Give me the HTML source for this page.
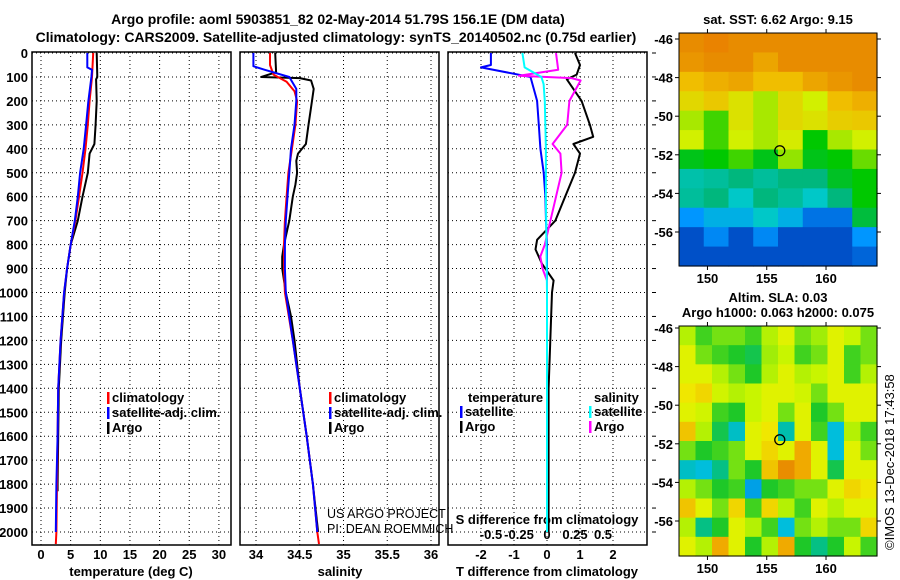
<!DOCTYPE html>
<html><head><meta charset="utf-8"><style>
body{margin:0;background:#fff;}
svg{display:block;font-family:"Liberation Sans",sans-serif;}
.b{font-weight:bold;font-size:13px;}
</style></head><body>
<svg id="c" width="900" height="580" viewBox="0 0 900 580">
<text class="b" x="338" y="24" text-anchor="middle" style="font-size:14px">Argo profile: aoml 5903851_82 02-May-2014 51.79S 156.1E (DM data)</text>
<text class="b" x="336" y="42" text-anchor="middle" style="font-size:14px">Climatology: CARS2009. Satellite-adjusted climatology: synTS_20140502.nc (0.75d earlier)</text>
</svg>
<script>
// ---------- data ----------
const depthTicks=[0,100,200,300,400,500,600,700,800,900,1000,1100,1200,1300,1400,1500,1600,1700,1800,1900,2000];
const tempTicks=[0,5,10,15,20,25,30];
const salTicks=[34,34.5,35,35.5,36];
const salTickLabels=["34","34.5","35","35.5","36"];
const tdTicks=[-2,-1,0,1,2];
const sdTicks=[-0.5,-0.25,0,0.25,0.5];
const sdTickLabels=["-0.5","-0.25","0","0.25","0.5"];
// temperature profiles
const tClimDepth=[0,100,200,300,400,500,600,700,800,900,1000,1200,1400,1600,1800,2000,2050];
const tClim=[8.8,8.6,8.2,7.9,7.5,7.0,6.4,5.8,5.0,4.4,3.9,3.3,2.9,2.8,2.7,2.6,2.5];
const tSatDepth=[0,60,70,100,200,300,400,500,600,700,800,900,1000,1200,1400,1600,1800,2000];
const tSat=[7.8,7.8,8.6,8.5,8.0,7.6,7.2,6.6,6.2,5.7,5.0,4.4,3.9,3.3,2.9,2.8,2.6,2.5];
const tArgoDepth=[0,100,110,200,300,380,420,500,600,700,800,900,1000,1200,1400,1600,1800,1830];
const tArgo=[9.4,9.5,9.3,9.4,9.2,9.0,8.2,7.9,7.0,6.2,5.0,4.4,4.0,3.4,3.0,2.9,2.8,2.8];
// salinity profiles
const sClimDepth=[0,50,90,120,160,200,300,400,500,600,700,800,900,1000,1200,1400,1600,1800,2000,2050];
const sClim=[34.16,34.16,34.2,34.35,34.44,34.47,34.45,34.41,34.37,34.35,34.33,34.32,34.32,34.33,34.42,34.50,34.58,34.65,34.70,34.72];
const sSatDepth=[0,55,70,100,150,200,300,400,500,600,700,800,900,1000,1200,1400,1600,1800,2000];
const sSat=[33.97,33.97,34.1,34.38,34.46,34.46,34.44,34.40,34.38,34.36,34.34,34.33,34.33,34.34,34.42,34.50,34.58,34.65,34.70];
const sArgoDepth=[0,80,100,105,115,150,200,300,380,420,450,500,550,600,700,800,850,900,1000,1100,1200,1400,1600,1800,2000];
const sArgo=[34.22,34.23,34.06,34.5,34.63,34.66,34.64,34.60,34.57,34.48,34.46,34.47,34.45,34.42,34.38,34.32,34.30,34.30,34.34,34.40,34.44,34.50,34.58,34.65,34.71];
// differences
const dTSatDepth=[0,50,60,100,200,300,400,500,600,700,800,1000,1500,2000];
const dTSat=[-1.7,-1.7,-2.0,-0.5,-0.3,-0.25,-0.2,-0.1,-0.05,-0.03,0,0,0,0];
const dTArgoDepth=[0,50,90,110,200,300,350,380,420,500,600,700,780,820,880,950,1000,1200,1400,2000];
const dTArgo=[0.85,1.0,0.9,0.6,1.05,1.3,1.4,0.8,1.0,0.85,0.55,0.25,-0.3,-0.35,-0.15,0.2,0.15,0.1,0.05,0.05];
const dSSatDepth=[0,60,100,130,200,400,600,1000,2000];
const dSSat=[-0.22,-0.2,-0.05,-0.03,-0.02,-0.01,-0.01,0,0];
const dSArgoDepth=[0,70,95,105,115,200,300,380,420,500,600,700,800,850,900,950,1000,1200,1500,1800];
const dSArgo=[0.08,0.1,-0.25,0.22,0.3,0.2,0.18,0.05,0.12,0.13,0.08,0.03,-0.02,-0.06,-0.04,0,0,0,0,0];
// maps
const lonTicks=[150,155,160];
const latTicks=[-46,-48,-50,-52,-54,-56];
const sstGrid=[
[9.5,9.6,9.5,9.5,9.5,9.5,9.5,9.5],
[9.3,9.5,9.5,9.0,9.5,9.5,9.5,9.5],
[8.5,8.8,9.0,8.5,8.5,9.0,9.3,9.5],
[8.0,8.3,7.8,7.3,8.0,7.5,8.5,8.8],
[7.3,6.8,7.8,7.3,8.0,7.8,8.2,8.3],
[7.5,6.8,7.5,7.3,7.6,6.5,7.3,7.5],
[6.3,6.5,6.8,6.3,7.2,6.3,6.5,7.0],
[5.2,5.3,5.5,5.3,5.5,5.5,6.2,6.5],
[5.3,5.5,5.0,5.5,5.3,5.0,5.5,6.5],
[4.0,4.5,4.5,5.0,4.5,3.5,3.5,6.0],
[3.0,3.8,3.0,3.8,3.0,3.0,3.0,4.0],
[3.0,3.0,3.0,3.0,3.0,3.0,3.0,3.3]];
const slaGrid=[
[0,-0.08,-0.05,-0.05,-0.08,0,0.05,-0.05,-0.02,0.05,0.02,-0.05],
[0.05,-0.05,-0.08,-0.1,-0.12,-0.02,0.02,-0.08,-0.05,0.05,-0.08,-0.05],
[0.05,0.05,0,-0.05,-0.1,0,0.05,0,0.02,0.05,-0.08,0],
[0.08,0.1,0.03,0,0.02,0.05,0.05,0.03,-0.05,0.05,0.05,0.05],
[0.05,0.03,-0.08,-0.1,0.02,0.05,-0.05,0.05,-0.1,-0.05,0.05,0.05],
[0.12,0,-0.12,-0.2,0.05,0.08,-0.18,0.05,-0.08,-0.22,0,-0.08],
[-0.05,-0.1,-0.08,-0.05,0.05,0.1,0.05,0.15,0.05,-0.22,0.05,-0.05],
[-0.2,-0.22,-0.15,-0.05,-0.1,0.12,0.2,0.15,0.05,-0.12,0.05,0.05],
[0,-0.05,-0.1,-0.08,-0.25,-0.1,-0.08,-0.05,-0.05,0.05,0.1,0.08],
[0.12,0.05,-0.05,0.1,-0.08,0.1,0,-0.08,0.05,0,0.05,0.05],
[0,-0.15,-0.1,0.05,0,-0.08,-0.22,-0.05,0,-0.05,-0.05,0.1],
[0.05,0,0.15,0.05,-0.1,0,0.15,-0.1,-0.15,-0.1,0.02,-0.08]];
const argoLon=156.1, argoLat=-51.79;

// ---------- drawing ----------
const svg=document.getElementById('c');
const NS='http://www.w3.org/2000/svg';
function mk(tag,at,parent){const e=document.createElementNS(NS,tag);for(const k in at)e.setAttribute(k,at[k]);(parent||svg).appendChild(e);return e;}
function txt(x,y,s,at){const e=mk('text',Object.assign({x:x,y:y},at||{}));e.textContent=s;return e;}
const PT=53, PB=545;
const yD=d=>PT+d*0.2395;
const panels=[
 {x0:32,x1:231,sx:v=>41+v*5.93,name:'temperature'},
 {x0:240,x1:439,sx:v=>256+(v-34)*87.5,name:'salinity'},
 {x0:448,x1:647,sx:v=>547+v*33,name:'t-difference'}];
const sdx=v=>547+v*112;
panels.forEach((p,i)=>{
  const g=mk('g',{});
  
  
  depthTicks.forEach(d=>{
    const l=mk('line',{x1:p.x0,x2:p.x1,y1:yD(d),y2:yD(d),stroke:'#000','stroke-width':1,'stroke-dasharray':'1,3'},g);
    
    
  });
  const ticks=i==0?tempTicks:(i==1?salTicks:tdTicks);
  ticks.forEach(t=>{
    const l=mk('line',{x1:p.sx(t),x2:p.sx(t),y1:PT-1,y2:PB,stroke:'#000','stroke-width':1,'stroke-dasharray':'1,3'},g);
    
    
  });
  const r=mk('rect',{x:p.x0,y:PT-1,width:p.x1-p.x0,height:PB-PT+1,fill:'none',stroke:'#000','stroke-width':1.5},g);
  
  
});
depthTicks.forEach(d=>{
  const t=txt(28,yD(d)+5,String(d),{'class':'b','text-anchor':'end'});
  
  
});
depthTicks.forEach(d=>{
  const l=mk('line',{x1:652,x2:656,y1:yD(d),y2:yD(d),stroke:'#000','stroke-width':1});
  
  
});
tempTicks.forEach(t=>{const e=txt(panels[0].sx(t),559,String(t),{'class':'b','text-anchor':'middle'});
  
  });
salTicks.forEach((t,k)=>{const e=txt(panels[1].sx(t),559,salTickLabels[k],{'class':'b','text-anchor':'middle'});
  
  });
tdTicks.forEach(t=>{const e=txt(panels[2].sx(t),559,String(t),{'class':'b','text-anchor':'middle'});
  
  });
sdTicks.forEach((t,k)=>{const e=txt(sdx(t),539,sdTickLabels[k],{'class':'b','text-anchor':'middle'});
  
  });
[[131,'temperature (deg C)','x-axis-title-temperature'],[340,'salinity','x-axis-title-salinity'],[547,'T difference from climatology','x-axis-title-t-diff']].forEach(a=>{
  const e=txt(a[0],576,a[1],{'class':'b','text-anchor':'middle'});
  
  });
const sd=txt(547,524,'S difference from climatology',{'class':'b','text-anchor':'middle'});



function line(depths,vals,sx,color,name,w){
  const pts=depths.map((d,k)=>sx(vals[k]).toFixed(1)+','+yD(d).toFixed(1)).join(' ');
  const e=mk('polyline',{points:pts,fill:'none',stroke:color,'stroke-width':w||2,'stroke-linejoin':'round'});
  
  
}
const P=panels;
line(tArgoDepth,tArgo,P[0].sx,'#000','temperature-argo-line');
line(tClimDepth,tClim,P[0].sx,'#f00','temperature-climatology-line');
line(tSatDepth,tSat,P[0].sx,'#00f','temperature-satellite-line');
line(sArgoDepth,sArgo,P[1].sx,'#000','salinity-argo-line');
line(sClimDepth,sClim,P[1].sx,'#f00','salinity-climatology-line');
line(sSatDepth,sSat,P[1].sx,'#00f','salinity-satellite-line');
line(dTArgoDepth,dTArgo,P[2].sx,'#000','t-diff-argo-line');
line(dTSatDepth,dTSat,P[2].sx,'#00f','t-diff-satellite-line');
line(dSArgoDepth,dSArgo,sdx,'#f0f','s-diff-argo-line');
line(dSSatDepth,dSSat,sdx,'#0ff','s-diff-satellite-line');

function leg(x,y,color,label,name){
  const r=mk('rect',{x:x,y:y-10,width:2.5,height:12,fill:color});
  
  
  const t=txt(x+5,y,label,{'class':'b'});
  
  
}
[[107,'#f00','climatology'],[107,'#00f','satellite-adj. clim.'],[107,'#000','Argo']].forEach((a,k)=>leg(a[0],402+k*15,a[1],a[2],'legend-entry'));
[[329,'#f00','climatology'],[329,'#00f','satellite-adj. clim.'],[329,'#000','Argo']].forEach((a,k)=>leg(a[0],402+k*15,a[1],a[2],'legend-entry'));
const lt=txt(468,402,'temperature',{'class':'b'});
const ls=txt(594,402,'salinity',{'class':'b'});
leg(460,416,'#00f','satellite','legend-entry');
leg(460,431,'#000','Argo','legend-entry');
leg(589,416,'#0ff','satellite','legend-entry');
leg(589,431,'#f0f','Argo','legend-entry');
const c1=txt(327,518,'US ARGO PROJECT',{'font-size':12.5});
const c2=txt(327,533,'PI: DEAN ROEMMICH',{'font-size':12.5});

function pal(stops){return v=>{
  if(v<=stops[0][0])return 'rgb('+stops[0][1].join(',')+')';
  for(let i=1;i<stops.length;i++){if(v<=stops[i][0]){const a=stops[i-1],b=stops[i],f=(v-a[0])/(b[0]-a[0]);
    return 'rgb('+a[1].map((c,k)=>Math.round(c+(b[1][k]-c)*f)).join(',')+')';}}
  return 'rgb('+stops[stops.length-1][1].join(',')+')';};}
const sstColor=pal([[3,[0,80,200]],[4,[0,150,255]],[5,[0,200,200]],[5.6,[0,180,110]],[6.5,[0,200,0]],[7.5,[210,240,0]],[8.5,[240,190,0]],[9.5,[232,140,0]],[11,[255,0,0]]]);
const slaColor=pal([[-0.28,[0,130,240]],[-0.22,[0,190,220]],[-0.16,[0,190,150]],[-0.1,[30,200,40]],[-0.03,[150,235,10]],[0.02,[200,245,0]],[0.07,[240,240,0]],[0.15,[240,170,0]],[0.22,[230,130,0]]]);

const LX0=679,LX1=877,LON0=147.6,LON1=164.3;
const lx=lon=>LX0+(lon-LON0)/(LON1-LON0)*(LX1-LX0);
function drawMap(top,bot,lat46,grid,colorFn,name){
  const ly=lat=>lat46+(-46-lat)*19.3;
  const g=mk('g',{});
  
  
  const rows=grid.length,cols=grid[0].length;
  const ch=(bot-top)/rows,cw=(LX1-LX0)/cols;
  grid.forEach((row,i)=>row.forEach((v,j)=>{
    const c=mk('rect',{x:LX0+j*cw,y:top+i*ch,width:cw+0.6,height:ch+0.6,fill:colorFn(v)},g);
    
    
  }));
  const f=mk('rect',{x:LX0,y:top,width:LX1-LX0,height:bot-top,fill:'none',stroke:'#000','stroke-width':1},g);
  
  
  lonTicks.forEach(l=>{
    mk('line',{x1:lx(l),x2:lx(l),y1:bot,y2:bot+4,stroke:'#000'},g);
    mk('line',{x1:lx(l),x2:lx(l),y1:top,y2:top-4,stroke:'#000'},g);
    const t=txt(lx(l),bot+17,String(l),{'class':'b','text-anchor':'middle'});
    
    
  });
  latTicks.forEach(l=>{
    mk('line',{x1:LX1,x2:LX1+4,y1:ly(l),y2:ly(l),stroke:'#000'},g);
    mk('line',{x1:LX0,x2:LX0-4,y1:ly(l),y2:ly(l),stroke:'#000'},g);
    const t=txt(LX0-6,ly(l)+5,String(l),{'class':'b','text-anchor':'end'});
    
    
  });
  const m=mk('circle',{cx:lx(argoLon),cy:ly(argoLat),r:5,fill:'none',stroke:'#000','stroke-width':1.3},g);
  
  
}
drawMap(33,266,39,sstGrid,sstColor,'sst-map');
drawMap(326,556,328,slaGrid,slaColor,'sla-map');
const m1=txt(778,24,'sat. SST: 6.62 Argo: 9.15',{'class':'b','text-anchor':'middle'});
const m2=txt(778,302,'Altim. SLA: 0.03',{'class':'b','text-anchor':'middle'});
const m3=txt(778,317,'Argo h1000: 0.063 h2000: 0.075',{'class':'b','text-anchor':'middle'});
const cp=txt(0,0,'\u00A9IMOS 13-Dec-2018 17:43:58',{'font-size':13,transform:'translate(894,550) rotate(-90)'});


</script>
</body></html>
